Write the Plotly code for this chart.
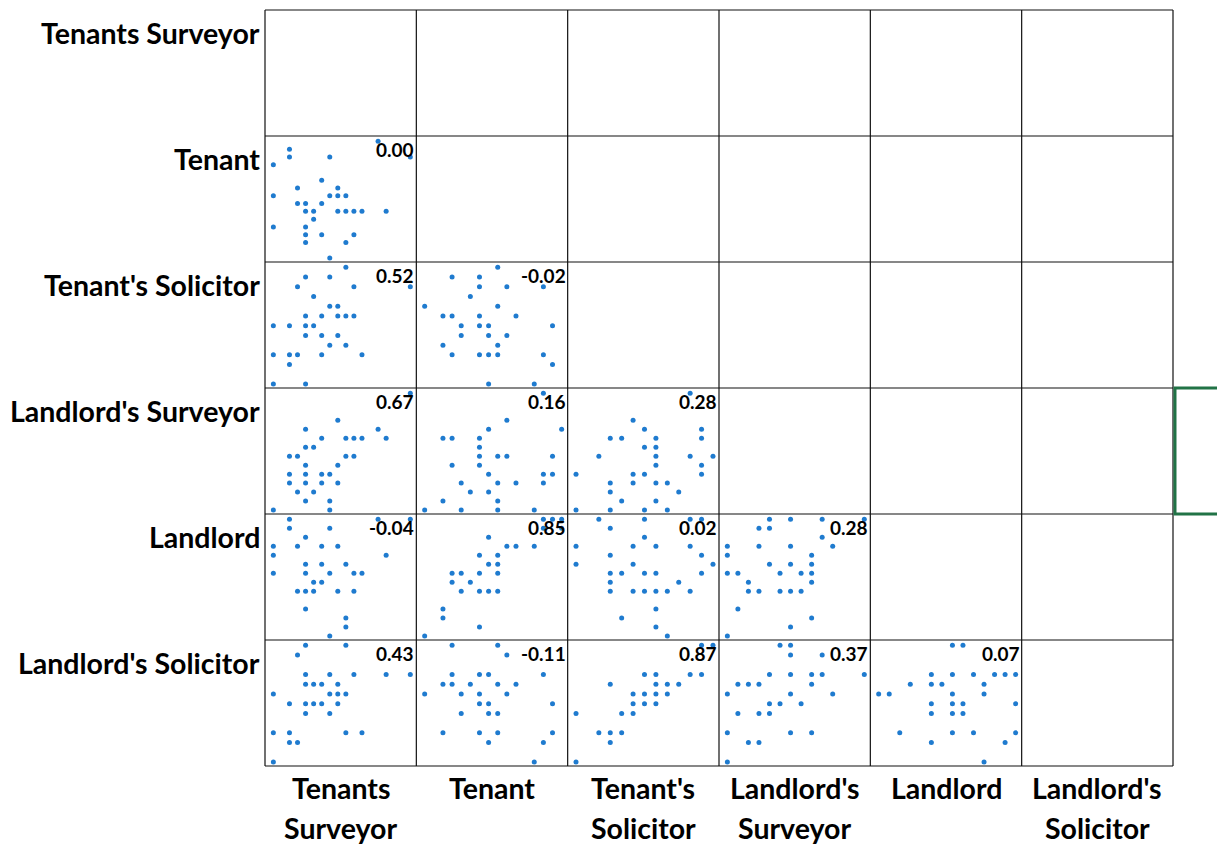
import plotly.graph_objects as go

# ---------------- data ----------------
variables = ["Tenants Surveyor", "Tenant", "Tenant's Solicitor",
             "Landlord's Surveyor", "Landlord", "Landlord's Solicitor"]
col_label_lines = [["Tenants", "Surveyor"], ["Tenant"], ["Tenant's", "Solicitor"],
                   ["Landlord's", "Surveyor"], ["Landlord"], ["Landlord's", "Solicitor"]]
scale_max = [17, 15, 12, 13, 13, 12]   # top of each rating scale (bottom is 0)

# row Tenant
t_ts_x = [13,2,2,7,17,0,6,3,8,0,7,8,9,3,4,6,4,5,8,9,10,11,14,5,0,4,4,6,10,4,9,7]
t_ts_y = [15,14,13,13,13,12,10,9,9,8,8,8,8,7,7,7,6,6,6,6,6,6,6,5,4,4,3,3,3,2,2,0]
# row Tenant's Solicitor
tsol_ts_x = [9,4,7,3,10,17,5,7,8,4,6,8,9,10,0,2,4,5,4,6,8,7,9,0,2,3,6,11,2,0,4]
tsol_ts_y = [12,11,11,10,10,10,9,8,8,7,7,7,7,7,6,6,6,6,5,5,5,4,4,3,3,3,3,3,2,0,0]
tsol_t_x = [8,3,6,6,9,13,5,0,8,2,3,6,10,4,6,7,14,4,7,9,2,8,3,6,7,8,13,14,7,12]
tsol_t_y = [12,11,11,10,10,10,9,8,8,7,7,7,7,6,6,6,6,5,5,5,4,4,3,3,3,3,3,2,0,0]
# row Landlord's Surveyor
ls_ts_x = [17,8,4,13,6,9,10,11,14,4,5,2,3,9,10,4,8,2,4,6,7,2,4,6,8,3,5,4,7,0,7]
ls_ts_y = [13,10,9,9,8,8,8,8,8,7,7,6,6,6,6,5,5,4,4,4,4,3,3,3,3,2,2,1,1,0,0]
ls_t_x = [13,9,7,15,2,3,6,6,6,8,9,14,3,6,7,13,14,4,8,10,13,5,7,2,8,0,4,8,12]
ls_t_y = [13,10,9,9,8,8,8,7,6,6,6,6,5,5,4,4,4,3,3,3,3,2,2,1,1,0,0,0,0]
ls_tsol_x = [10,5,6,11,3,4,7,11,6,7,2,7,10,12,7,11,0,5,6,11,3,5,7,8,3,9,4,7,0,3,6,8]
ls_tsol_y = [13,10,9,9,8,8,8,8,7,7,6,6,6,6,5,5,4,4,4,4,3,3,3,3,2,2,1,1,0,0,0,0]
# row Landlord
l_ts_x = [2,13,17,2,7,4,0,3,6,8,0,14,4,6,9,0,4,7,10,11,5,6,3,4,5,8,10,4,9,9,7]
l_ts_y = [13,13,13,12,12,11,10,10,10,10,9,9,8,8,8,7,7,7,7,7,6,6,5,5,5,5,5,3,2,1,0]
l_t_x = [13,14,15,13,15,7,9,10,12,6,8,7,8,3,4,6,8,3,5,4,6,7,8,2,2,6,0]
l_t_y = [13,13,13,12,12,11,10,10,10,9,9,8,8,7,7,7,7,6,6,5,5,5,5,3,2,1,0]
l_tsol_x = [2,6,10,11,3,6,0,5,7,10,3,11,0,5,12,3,4,6,7,11,3,9,3,5,6,7,8,10,7,4,7,8]
l_tsol_y = [13,13,13,13,12,11,10,10,10,10,9,9,8,8,8,7,7,7,7,7,6,6,5,5,5,5,5,5,3,2,1,0]
l_ls_x = [4,6,9,13,3,4,9,0,3,6,10,0,8,4,6,8,0,1,5,7,8,2,8,2,3,5,6,7,1,8,6,0]
l_ls_y = [13,13,13,13,12,12,11,10,10,10,10,9,9,8,8,8,7,7,7,7,7,6,6,5,5,5,5,5,3,2,1,0]
# row Landlord's Solicitor
lsol_ts_x = [4,9,3,4,7,10,14,17,4,5,6,8,0,7,8,9,2,4,5,6,8,4,7,0,2,9,11,2,3,0]
lsol_ts_y = [12,12,11,9,9,9,9,9,8,8,8,8,7,7,7,7,6,6,6,6,6,5,5,3,3,3,3,2,2,0]
lsol_t_x = [3,8,9,3,6,7,13,2,3,5,8,10,0,4,6,9,6,7,14,4,7,8,2,6,8,14,7,13,12]
lsol_t_y = [12,12,11,9,9,9,9,8,8,8,8,8,7,7,7,7,6,6,6,5,5,5,3,3,3,3,2,2,0]
lsol_tsol_x = [11,12,6,7,10,11,3,7,8,9,5,6,7,8,5,6,7,0,4,5,2,3,4,3,0]
lsol_tsol_y = [12,12,9,9,9,9,8,8,8,8,7,7,7,7,6,6,6,5,5,5,3,3,3,2,0]
lsol_ls_x = [5,6,6,9,4,6,8,9,13,1,2,3,8,0,6,10,4,5,7,1,3,4,0,6,8,2,3,0]
lsol_ls_y = [12,12,11,11,9,9,9,9,9,8,8,8,8,7,7,7,6,6,6,5,5,5,3,3,3,2,2,0]
lsol_l_x = [7,8,5,7,9,11,12,13,3,5,6,10,0,1,7,10,5,7,8,13,5,7,8,2,7,9,13,5,12,10]
lsol_l_y = [12,12,9,9,9,9,9,9,8,8,8,8,7,7,7,7,6,6,6,6,5,5,5,3,3,3,3,2,2,0]

# correlation coefficients, lower triangle, row by row
correlations = [0.00,
                0.52, -0.02,
                0.67, 0.16, 0.28,
                -0.04, 0.85, 0.02, 0.28,
                0.43, -0.11, 0.87, 0.37, 0.07]

panels = [  # (row, col, x, y)
    (1, 0, t_ts_x, t_ts_y),
    (2, 0, tsol_ts_x, tsol_ts_y), (2, 1, tsol_t_x, tsol_t_y),
    (3, 0, ls_ts_x, ls_ts_y), (3, 1, ls_t_x, ls_t_y), (3, 2, ls_tsol_x, ls_tsol_y),
    (4, 0, l_ts_x, l_ts_y), (4, 1, l_t_x, l_t_y), (4, 2, l_tsol_x, l_tsol_y),
    (4, 3, l_ls_x, l_ls_y),
    (5, 0, lsol_ts_x, lsol_ts_y), (5, 1, lsol_t_x, lsol_t_y),
    (5, 2, lsol_tsol_x, lsol_tsol_y), (5, 3, lsol_ls_x, lsol_ls_y),
    (5, 4, lsol_l_x, lsol_l_y),
]

# ---------------- figure ----------------
W, H = 1217, 844
ML, MR, MT, MB = 265, 44, 10, 78
n = 6
FONT = "Lato"
DOT = "#1f7bcf"
LABEL_SIZE = 28.5

fig = go.Figure()
layout = dict(width=W, height=H, margin=dict(l=ML, r=MR, t=MT, b=MB),
              paper_bgcolor="white", plot_bgcolor="white", showlegend=False,
              font=dict(family=FONT, color="black"))
annotations = []
shapes = []

for k, (r, c, xs, ys) in enumerate(panels, start=1):
    xa = "xaxis" if k == 1 else f"xaxis{k}"
    ya = "yaxis" if k == 1 else f"yaxis{k}"
    xn, yn = scale_max[c], scale_max[r]
    layout[xa] = dict(domain=[c / n, (c + 1) / n], range=[-0.061 * xn, 1.044 * xn],
                      visible=False, anchor=f"y{k}" if k > 1 else "y", fixedrange=True)
    layout[ya] = dict(domain=[1 - (r + 1) / n, 1 - r / n], range=[-0.034 * yn, 1.046 * yn],
                      visible=False, anchor=f"x{k}" if k > 1 else "x", fixedrange=True)
    fig.add_trace(go.Scatter(x=xs, y=ys, mode="markers",
                             xaxis=f"x{k}" if k > 1 else "x",
                             yaxis=f"y{k}" if k > 1 else "y",
                             marker=dict(size=5, color=DOT, line=dict(width=0)),
                             hoverinfo="skip"))
    sfx = "" if k == 1 else str(k)
    annotations.append(dict(text=f"<b>{correlations[k-1]:.2f}</b>",
                            xref=f"x{sfx} domain", yref=f"y{sfx} domain",
                            x=1, y=1, xanchor="right", yanchor="top",
                            xshift=0, yshift=0, showarrow=False,
                            font=dict(size=19, family=FONT, color="black")))

# grid lines
for k in range(n + 1):
    shapes.append(dict(type="line", xref="paper", yref="paper", x0=k / n, x1=k / n,
                       y0=0, y1=1, line=dict(color="#111111", width=1.2)))
    shapes.append(dict(type="line", xref="paper", yref="paper", x0=0, x1=1,
                       y0=k / n, y1=k / n, line=dict(color="#111111", width=1.2)))

# green selection border at the right edge
shapes.append(dict(type="path", xref="paper", yref="paper",
                   path="M 1.08,0.5 L 1.0022,0.5 L 1.0022,0.33333 L 1.08,0.33333",
                   line=dict(color="#217346", width=3)))

# row labels
for i, name in enumerate(variables):
    annotations.append(dict(text=f"<b>{name}</b>", xref="paper", yref="paper",
                            x=0, y=1 - i / n, xanchor="right", yanchor="middle",
                            xshift=-3, yshift=-23, showarrow=False,
                            font=dict(size=LABEL_SIZE, family=FONT, color="black")))

# column labels
for j, lines in enumerate(col_label_lines):
    for li, line in enumerate(lines):
        annotations.append(dict(text=f"<b>{line}</b>", xref="paper", yref="paper",
                                x=(j + 0.5) / n, y=0, xanchor="center", yanchor="middle",
                                yshift=-22 - 40 * li, showarrow=False,
                                font=dict(size=LABEL_SIZE, family=FONT, color="black")))

layout["annotations"] = annotations
layout["shapes"] = shapes
fig.update_layout(**layout)
fig.write_html("out.html", config={"displayModeBar": False, "staticPlot": True},
               post_script="document.body.style.margin='0';document.body.style.overflow='hidden';")
